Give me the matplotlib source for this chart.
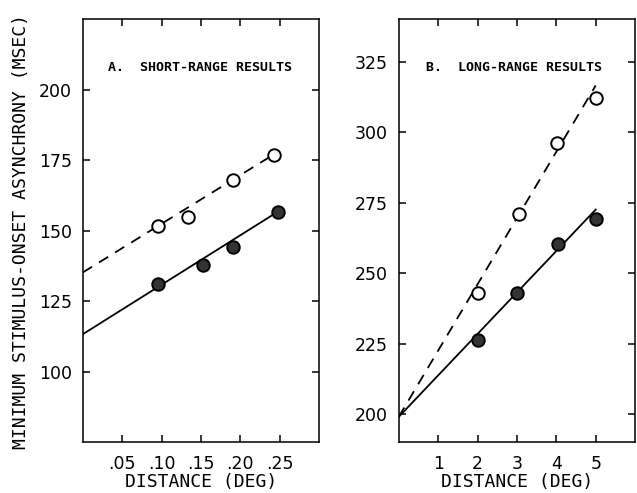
import matplotlib
matplotlib.use('Agg')
import matplotlib.pyplot as plt

# panel A: short-range results
dist_a = [0.096, 0.134, 0.191, 0.243]
open_a = [151.5, 155.0, 168.0, 177.0]
dist_a_filled = [0.095, 0.153, 0.191, 0.248]
filled_a = [131.0, 138.0, 144.4, 156.7]
fit_x_a = [0.0, 0.245]
fit_open_a = [135.2, 177.5]
fit_x_a2 = [0.0, 0.249]
fit_filled_a = [113.3, 157.0]

# panel B: long-range results
dist_b = [2.0, 3.05, 4.03, 5.0]
open_b = [243.0, 271.0, 296.0, 312.2]
dist_b_filled = [2.0, 3.0, 4.05, 5.0]
filled_b = [226.4, 243.0, 260.3, 269.3]
fit_x_b = [0.0, 5.0]
fit_open_b = [199.0, 316.5]
fit_filled_b = [199.0, 272.5]

xticks_a = [0.05, 0.10, 0.15, 0.20, 0.25]
xticklabels_a = ['.05', '.10', '.15', '.20', '.25']
yticks_a = [100, 125, 150, 175, 200]
xticks_b = [1, 2, 3, 4, 5]
yticks_b = [200, 225, 250, 275, 300, 325]

mono = 'DejaVu Sans Mono'
fill_col = '#333333'

fig = plt.figure(figsize=(6.37, 4.93), dpi=100)
ax_a = fig.add_axes([0.130, 0.103, 0.371, 0.858])
ax_b = fig.add_axes([0.626, 0.103, 0.371, 0.858])


def style(ax):
    for sp in ax.spines.values():
        sp.set_linewidth(1.1)
    ax.tick_params(direction='in', length=5, width=1.1, top=True, right=True,
                   labelsize=12.5)
    ax.tick_params(axis='y', pad=8)
    ax.tick_params(axis='x', pad=9)


# A
ax_a.plot(fit_x_a, fit_open_a, color='black', lw=1.3, ls=(0, (6, 4.5)))
ax_a.plot(fit_x_a2, fit_filled_a, color='black', lw=1.3)
ax_a.plot(dist_a, open_a, 'o', ms=9, mfc='white', mec='black', mew=1.4)
ax_a.plot(dist_a_filled, filled_a, 'o', ms=9, mfc=fill_col, mec='black', mew=1.4)
ax_a.set_xlim(0, 0.30)
ax_a.set_ylim(75, 225)
ax_a.set_xticks(xticks_a)
ax_a.set_xticklabels(xticklabels_a)
ax_a.set_yticks(yticks_a)
style(ax_a)
ax_a.set_xlabel('DISTANCE (DEG)', family=mono, fontsize=13, labelpad=0)
ax_a.text(0.106, 0.887, 'A.  SHORT-RANGE RESULTS', transform=ax_a.transAxes,
          family=mono, fontsize=9.5, fontweight='bold', va='center')

# B
ax_b.plot(fit_x_b, fit_open_b, color='black', lw=1.3, ls=(0, (6, 4.5)))
ax_b.plot(fit_x_b, fit_filled_b, color='black', lw=1.3)
ax_b.plot(dist_b, open_b, 'o', ms=9, mfc='white', mec='black', mew=1.4)
ax_b.plot(dist_b_filled, filled_b, 'o', ms=9, mfc=fill_col, mec='black', mew=1.4)
ax_b.set_xlim(0, 6)
ax_b.set_ylim(190, 340)
ax_b.set_xticks(xticks_b)
ax_b.set_yticks(yticks_b)
style(ax_b)
ax_b.set_xlabel('DISTANCE (DEG)', family=mono, fontsize=13, labelpad=0)
ax_b.text(0.114, 0.887, 'B.  LONG-RANGE RESULTS', transform=ax_b.transAxes,
          family=mono, fontsize=9.5, fontweight='bold', va='center')

fig.text(0.033, 0.53, 'MINIMUM STIMULUS-ONSET ASYNCHRONY (MSEC)', rotation=90,
         family=mono, fontsize=13, ha='center', va='center')

fig.savefig('out.png', dpi=100)
